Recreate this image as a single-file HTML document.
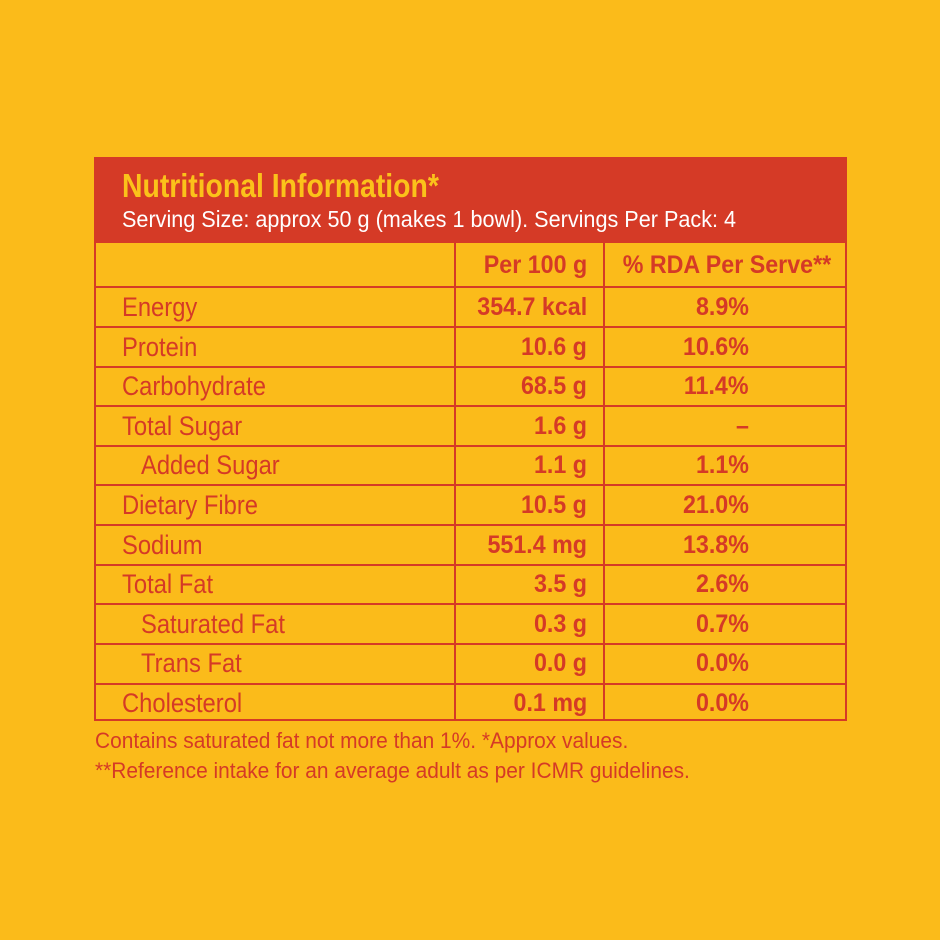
<!DOCTYPE html>
<html><head><meta charset="utf-8"><style>
body{margin:0;width:940px;height:940px;background:#fbbb1a;position:relative;overflow:hidden;font-family:"Liberation Sans Narrow","Liberation Sans",sans-serif;color:#d53a26}
.t{position:absolute;white-space:nowrap;transform-origin:left center}
.box{position:absolute;left:94px;top:157px;width:753px;height:564px;border:2px solid #d53a26;box-sizing:border-box}
.hd{position:absolute;left:94px;top:157px;width:753px;height:86px;background:#d53a26}
.h{position:absolute;left:94px;width:753px;height:2px;background:#d53a26}
.v{position:absolute;top:242px;height:479px;width:2px;background:#d53a26}
.row{position:absolute;left:94px;width:753px;height:40px;line-height:40px;font-size:27px}
.row span{display:inline-block;white-space:nowrap}
.row .a{position:absolute;left:28px;transform:scaleX(0.88);transform-origin:left center}
.row .a.i{left:47px}
.row .b{position:absolute;right:260px;font-weight:bold;font-size:25px;transform:scaleX(0.93);transform-origin:right center}
.row .c{position:absolute;right:98px;font-weight:bold;font-size:25px;transform:scaleX(0.93);transform-origin:right center}
</style></head><body>
<div class="hd"></div>
<div class="box"></div>
<div class="t" style="left:122px;top:167px;font-size:33px;font-weight:bold;color:#fbc21a;transform:scaleX(0.86)">Nutritional Information*</div>
<div class="t" style="left:122px;top:206px;font-size:23px;color:#fff;transform:scaleX(0.94)">Serving Size: approx 50 g (makes 1 bowl). Servings Per Pack: 4</div>
<div class="v" style="left:454px"></div>
<div class="v" style="left:603px"></div>
<div class="h" style="top:286px"></div>
<div class="h" style="top:326px"></div>
<div class="h" style="top:366px"></div>
<div class="h" style="top:405px"></div>
<div class="h" style="top:445px"></div>
<div class="h" style="top:484px"></div>
<div class="h" style="top:524px"></div>
<div class="h" style="top:564px"></div>
<div class="h" style="top:603px"></div>
<div class="h" style="top:643px"></div>
<div class="h" style="top:683px"></div>
<div class="row" style="top:244px;height:43px;line-height:43px"><span class="b">Per 100 g</span><span class="c" style="right:16px">% RDA Per Serve**</span></div>
<div class="row" style="top:287px"><span class="a">Energy</span><span class="b">354.7 kcal</span><span class="c">8.9%</span></div>
<div class="row" style="top:327px"><span class="a">Protein</span><span class="b">10.6 g</span><span class="c">10.6%</span></div>
<div class="row" style="top:366px"><span class="a">Carbohydrate</span><span class="b">68.5 g</span><span class="c">11.4%</span></div>
<div class="row" style="top:406px"><span class="a">Total Sugar</span><span class="b">1.6 g</span><span class="c">–</span></div>
<div class="row" style="top:445px"><span class="a i">Added Sugar</span><span class="b">1.1 g</span><span class="c">1.1%</span></div>
<div class="row" style="top:485px"><span class="a">Dietary Fibre</span><span class="b">10.5 g</span><span class="c">21.0%</span></div>
<div class="row" style="top:525px"><span class="a">Sodium</span><span class="b">551.4 mg</span><span class="c">13.8%</span></div>
<div class="row" style="top:564px"><span class="a">Total Fat</span><span class="b">3.5 g</span><span class="c">2.6%</span></div>
<div class="row" style="top:604px"><span class="a i">Saturated Fat</span><span class="b">0.3 g</span><span class="c">0.7%</span></div>
<div class="row" style="top:643px"><span class="a i">Trans Fat</span><span class="b">0.0 g</span><span class="c">0.0%</span></div>
<div class="row" style="top:683px"><span class="a">Cholesterol</span><span class="b">0.1 mg</span><span class="c">0.0%</span></div>
<div class="t" style="left:95px;top:728px;font-size:22px;transform:scaleX(0.95)">Contains saturated fat not more than 1%. *Approx values.</div>
<div class="t" style="left:95px;top:758px;font-size:22px;transform:scaleX(0.95)">**Reference intake for an average adult as per ICMR guidelines.</div>
</body></html>
